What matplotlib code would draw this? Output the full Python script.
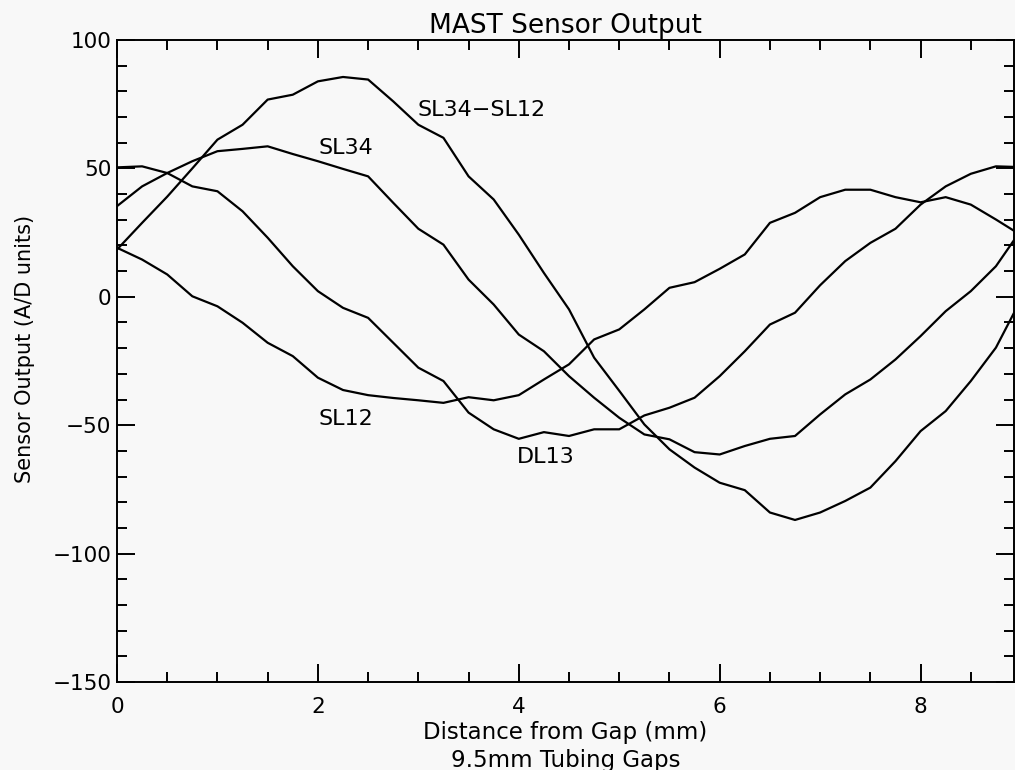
import numpy as np
import matplotlib
matplotlib.use('Agg')
import matplotlib.pyplot as plt
from matplotlib.ticker import MultipleLocator

# distance from gap (mm), sampled every 0.25 mm
distance = np.arange(0, 9.25, 0.25)

sl34_sl12 = [18.4, 28.8, 39.0, 50.0, 61.2, 67.0, 76.8, 78.7, 83.9, 85.6, 84.6, 76.1,
             67.0, 61.9, 46.9, 37.9, 24.2, 9.3, -4.9, -23.7, -36.6, -49.7, -59.4, -66.5,
             -72.4, -75.3, -84.0, -86.9, -84.0, -79.5, -74.3, -64.0, -52.3, -44.5, -32.8,
             -19.8, -1.0]
sl34 = [35.3, 43.0, 48.2, 52.8, 56.7, 57.6, 58.6, 55.6, 52.8, 49.8, 46.9, 36.6,
        26.5, 20.3, 6.7, -3.0, -14.7, -21.2, -30.9, -39.3, -47.1, -53.6, -55.5, -60.5,
        -61.4, -58.1, -55.3, -54.2, -45.8, -38.0, -32.2, -24.4, -15.3, -5.6, 2.2,
        11.9, 26.0]
sl12 = [19.1, 14.5, 8.7, 0.2, -3.7, -10.1, -17.9, -23.1, -31.5, -36.3, -38.3, -39.4,
        -40.3, -41.3, -39.1, -40.3, -38.3, -32.2, -26.3, -16.6, -12.7, -4.9, 3.5, 5.7,
        10.9, 16.5, 28.8, 32.7, 38.8, 41.7, 41.7, 38.8, 36.8, 38.8, 35.9, 30.1, 24.0]
dl13 = [50.4, 50.8, 48.2, 43.0, 41.1, 33.3, 23.0, 11.9, 2.2, -4.3, -8.2, -17.9,
        -27.6, -32.8, -45.1, -51.6, -55.3, -52.7, -54.2, -51.6, -51.6, -46.2, -43.2,
        -39.3, -30.9, -21.2, -10.8, -6.2, 4.5, 13.9, 21.0, 26.5, 35.9, 43.0, 47.9,
        50.8, 50.5]

labels = ['SL34\u2212SL12', 'SL34', 'SL12', 'DL13']
label_pos = [(3.63, 72.9), (2.28, 57.9), (2.28, -47.5), (4.27, -62.3)]

bg = '#f8f8f8'
fig = plt.figure(figsize=(10.15, 7.7), dpi=100, facecolor=bg)
ax = fig.add_axes([117/1015, 88/770, 897/1015, 642/770], facecolor=bg)

for s in [sl34_sl12, sl34, sl12, dl13]:
    ax.plot(distance, s, color='black', lw=1.6)

for txt, (tx, ty) in zip(labels, label_pos):
    ax.text(tx, ty, txt, fontsize=16, ha='center', va='center')

ax.set_xlim(0, 8.93)
ax.set_ylim(-150, 100)
ax.xaxis.set_major_locator(MultipleLocator(2))
ax.xaxis.set_minor_locator(MultipleLocator(0.5))
ax.yaxis.set_major_locator(MultipleLocator(50))
ax.yaxis.set_minor_locator(MultipleLocator(10))
ax.tick_params(which='both', direction='in', top=True, right=True, width=1.4,
               labelsize=15.5)
ax.tick_params(which='major', length=13)
ax.tick_params(which='minor', length=7)
ax.tick_params(axis='x', pad=11)
ax.tick_params(axis='y', pad=4)
for sp in ax.spines.values():
    sp.set_linewidth(1.4)

ax.set_title('MAST Sensor Output', fontsize=19, pad=5)
ax.set_xlabel('Distance from Gap (mm)\n9.5mm Tubing Gaps', fontsize=16.5,
              linespacing=1.25, labelpad=3)
ax.set_ylabel('Sensor Output (A/D units)', fontsize=15)
ax.yaxis.set_label_coords(-0.0914, 0.519)

fig.savefig('out.png', dpi=100, facecolor=bg)
